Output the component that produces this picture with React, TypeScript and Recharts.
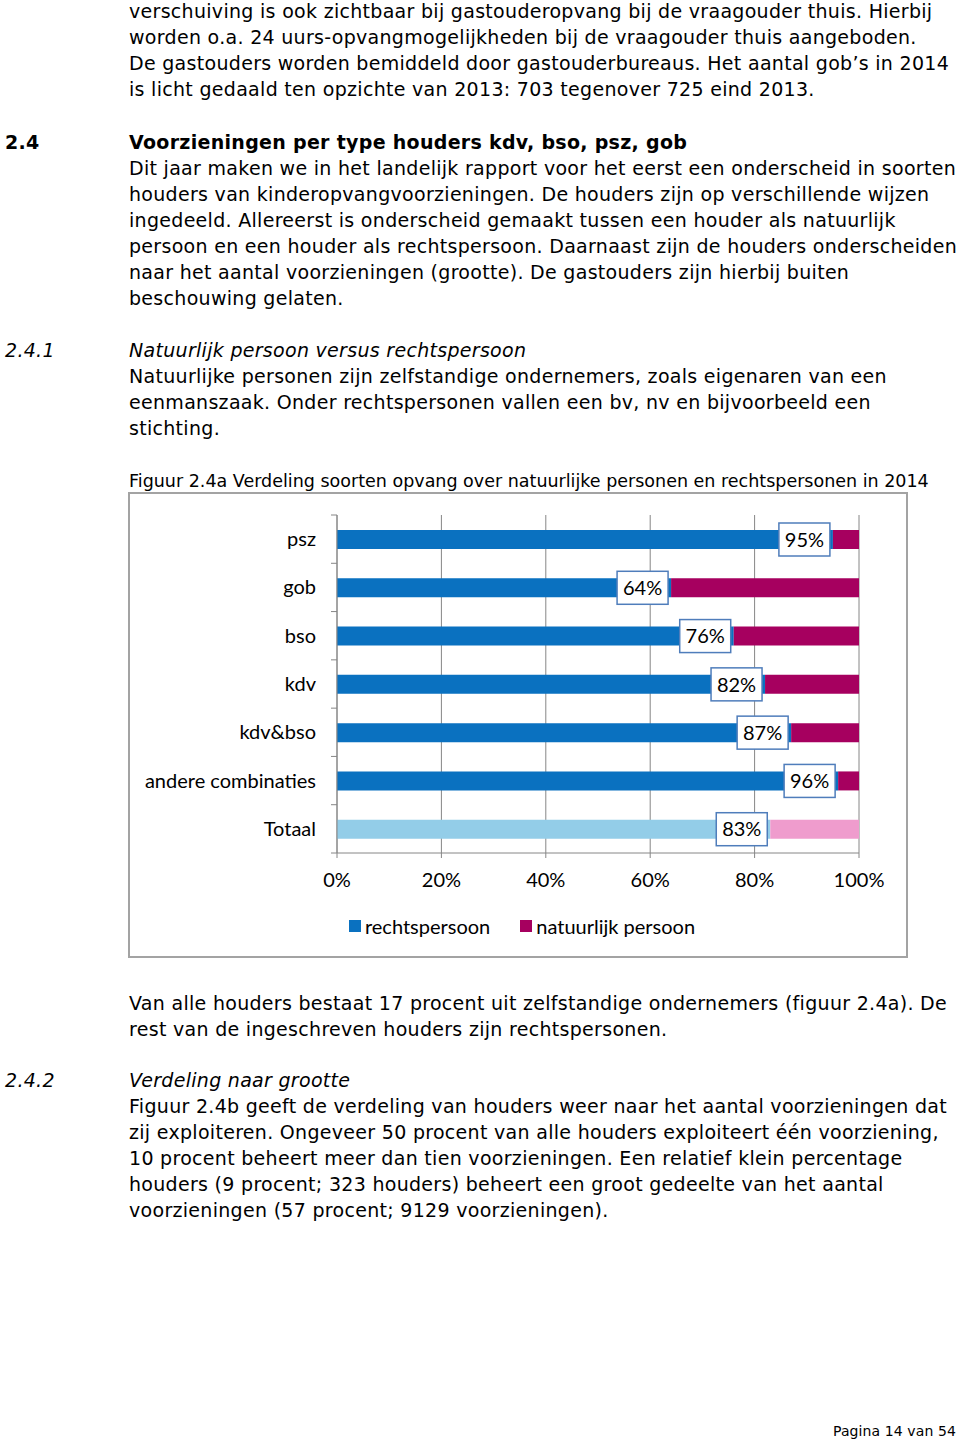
import React from 'react';
import { BarChart, Bar, XAxis, YAxis, CartesianGrid, Legend, LabelList, Cell } from 'recharts';

const categories = ['psz', 'gob', 'bso', 'kdv', 'kdv&bso', 'andere combinaties', 'Totaal'];
const rechtspersoon = [95, 64, 76, 82, 87, 96, 83];
const natuurlijkPersoon = [5, 36, 24, 18, 13, 4, 17];
const xTicks = [0, 20, 40, 60, 80, 100];

const data = categories.map((name, i) => ({
  name,
  recht: rechtspersoon[i],
  natuur: natuurlijkPersoon[i],
}));

const BLUE = '#0a71c0';
const MAGENTA = '#a6005f';
const LIGHT_BLUE = '#93cde8';
const PINK = '#ef9ccd';
const CHART_FONT = 'Lato, "Open Sans", sans-serif';
const BODY_FONT = '"DejaVu Sans", Verdana, sans-serif';

const PLOT_TOP = 23;
const PLOT_BOTTOM = 361;
const band = (PLOT_BOTTOM - PLOT_TOP) / categories.length;

const topLines = [
  'verschuiving is ook zichtbaar bij gastouderopvang bij de vraagouder thuis. Hierbij',
  'worden o.a. 24 uurs-opvangmogelijkheden bij de vraagouder thuis aangeboden.',
  'De gastouders worden bemiddeld door gastouderbureaus. Het aantal gob\u2019s in 2014',
  'is licht gedaald ten opzichte van 2013: 703 tegenover 725 eind 2013.',
];

const section24 = [
  'Dit jaar maken we in het landelijk rapport voor het eerst een onderscheid in soorten',
  'houders van kinderopvangvoorzieningen. De houders zijn op verschillende wijzen',
  'ingedeeld. Allereerst is onderscheid gemaakt tussen een houder als natuurlijk',
  'persoon en een houder als rechtspersoon. Daarnaast zijn de houders onderscheiden',
  'naar het aantal voorzieningen (grootte). De gastouders zijn hierbij buiten',
  'beschouwing gelaten.',
];

const section241 = [
  'Natuurlijke personen zijn zelfstandige ondernemers, zoals eigenaren van een',
  'eenmanszaak. Onder rechtspersonen vallen een bv, nv en bijvoorbeeld een',
  'stichting.',
];

const afterChart = [
  'Van alle houders bestaat 17 procent uit zelfstandige ondernemers (figuur 2.4a). De',
  'rest van de ingeschreven houders zijn rechtspersonen.',
];

const section242 = [
  'Figuur 2.4b geeft de verdeling van houders weer naar het aantal voorzieningen dat',
  'zij exploiteren. Ongeveer 50 procent van alle houders exploiteert \u00e9\u00e9n voorziening,',
  '10 procent beheert meer dan tien voorzieningen. Een relatief klein percentage',
  'houders (9 procent; 323 houders) beheert een groot gedeelte van het aantal',
  'voorzieningen (57 procent; 9129 voorzieningen).',
];

const Lines = ({ top, left = 129, lines, style }: { top: number; left?: number; lines: string[]; style?: React.CSSProperties }) => (
  <>
    {lines.map((l, i) => (
      <div
        key={i}
        style={{
          position: 'absolute',
          left,
          top: top - 13 + i * 26,
          height: 26,
          lineHeight: '26px',
          whiteSpace: 'nowrap',
          fontFamily: BODY_FONT,
          fontSize: 19,
          letterSpacing: 0.3,
          color: '#000',
          ...style,
        }}
      >
        {l}
      </div>
    ))}
  </>
);

const CategoryTick = (props: any) => {
  const { x, y, payload, index } = props;
  const axisX = x + 21;
  return (
    <g>
      <line x1={axisX - 6} x2={axisX} y1={y - band / 2} y2={y - band / 2} stroke="#868686" />
      {index === categories.length - 1 && (
        <line x1={axisX - 6} x2={axisX} y1={y + band / 2} y2={y + band / 2} stroke="#868686" />
      )}
      <text x={x} y={y} dy="0.35em" textAnchor="end" fill="#000" fontSize={20} fontFamily={CHART_FONT}>
        {payload.value}
      </text>
    </g>
  );
};

const BoxLabel = (props: any) => {
  const { x, y, width, height, value } = props;
  const w = 51;
  const h = 33;
  const right = x + width - 3;
  const cy = y + height / 2;
  return (
    <g>
      <rect x={right - w} y={cy - h / 2} width={w} height={h} fill="#fff" stroke="#4f7dbb" strokeWidth={1.5} />
      <text x={right - w / 2} y={cy} dy="0.36em" textAnchor="middle" fill="#000" fontSize={20} fontFamily={CHART_FONT}>
        {`${value}%`}
      </text>
    </g>
  );
};

const LegendContent = () => (
  <div style={{ display: 'flex', justifyContent: 'center', height: 26, lineHeight: '26px', fontFamily: CHART_FONT, fontSize: 20, color: '#000', paddingLeft: 57 }}>
    {[
      { label: 'rechtspersoon', color: BLUE },
      { label: 'natuurlijk persoon', color: MAGENTA },
    ].map((it, i) => (
      <div key={it.label} style={{ display: 'flex', alignItems: 'center', marginLeft: i ? 30 : 0 }}>
        <span style={{ display: 'inline-block', width: 12, height: 12, background: it.color, marginRight: 4 }} />
        <span>{it.label}</span>
      </div>
    ))}
  </div>
);

export default function App() {
  return (
    <div style={{ position: 'absolute', left: 0, top: 0, width: 960, height: 1442, background: '#fff', overflow: 'hidden' }}>
      <Lines top={11} lines={topLines} />

      <Lines top={142} left={5} lines={['2.4']} style={{ fontWeight: 'bold' }} />
      <Lines top={142} lines={['Voorzieningen per type houders kdv, bso, psz, gob']} style={{ fontWeight: 'bold' }} />
      <Lines top={168} lines={section24} />

      <Lines top={350} left={5} lines={['2.4.1']} style={{ fontStyle: 'italic' }} />
      <Lines top={350} lines={['Natuurlijk persoon versus rechtspersoon']} style={{ fontStyle: 'italic' }} />
      <Lines top={376} lines={section241} />

      <Lines
        top={481}
        lines={['Figuur 2.4a Verdeling soorten opvang over natuurlijke personen en rechtspersonen in 2014']}
        style={{ fontSize: 17.5, letterSpacing: 0 }}
      />

      <div style={{ position: 'absolute', left: 128, top: 492, width: 780, height: 466, border: '2px solid #a3a3a3', boxSizing: 'border-box' }} />
      <div style={{ position: 'absolute', left: 128, top: 492 }}>
        <BarChart
          width={780}
          height={466}
          data={data}
          layout="vertical"
          barSize={19}
          margin={{ top: PLOT_TOP, right: 49, left: 0, bottom: 19 }}
        >
          <CartesianGrid horizontal={false} stroke="#868686" strokeWidth={1} />
          <XAxis
            type="number"
            domain={[0, 100]}
            ticks={xTicks}
            tickFormatter={(v) => `${v}%`}
            height={60}
            tickSize={5}
            tickMargin={15}
            stroke="#868686"
            tick={{ fill: '#000', fontSize: 20, fontFamily: CHART_FONT }}
          />
          <YAxis
            type="category"
            dataKey="name"
            width={209}
            tickLine={false}
            tickSize={6}
            tickMargin={15}
            stroke="#868686"
            tick={<CategoryTick />}
            interval={0}
          />
          <Legend verticalAlign="bottom" content={<LegendContent />} />
          <Bar dataKey="recht" stackId="a" fill={BLUE} isAnimationActive={false}>
            {data.map((d) => (
              <Cell key={d.name} fill={d.name === 'Totaal' ? LIGHT_BLUE : BLUE} />
            ))}
            <LabelList dataKey="recht" content={<BoxLabel />} />
          </Bar>
          <Bar dataKey="natuur" stackId="a" fill={MAGENTA} isAnimationActive={false}>
            {data.map((d) => (
              <Cell key={d.name} fill={d.name === 'Totaal' ? PINK : MAGENTA} />
            ))}
          </Bar>
        </BarChart>
      </div>

      <Lines top={1003} lines={afterChart} />

      <Lines top={1080} left={5} lines={['2.4.2']} style={{ fontStyle: 'italic' }} />
      <Lines top={1080} lines={['Verdeling naar grootte']} style={{ fontStyle: 'italic' }} />
      <Lines top={1106} lines={section242} />

      <Lines top={1431} left={833} lines={['Pagina 14 van 54']} style={{ fontSize: 14, letterSpacing: 0.1 }} />
    </div>
  );
}
